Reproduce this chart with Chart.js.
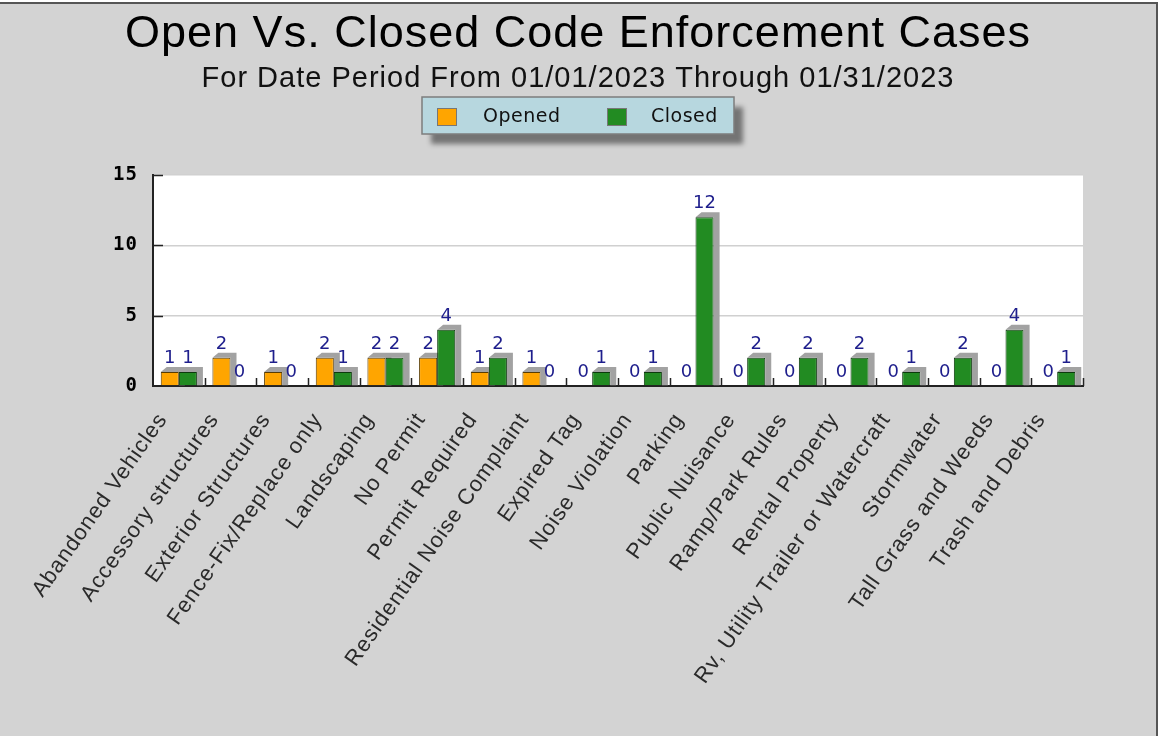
<!DOCTYPE html>
<html>
<head>
<meta charset="utf-8">
<script src="https://cdn.jsdelivr.net/npm/chart.js@4.4.1/dist/chart.umd.min.js"></script>
<style>
  html, body { margin: 0; padding: 0; background: #fff; }
  #wrap { width: 1162px; height: 736px; }
</style>
</head>
<body>
<div id="wrap"><canvas id="myChart" width="1162" height="736"></canvas></div>
<script>
// chart data
const categories = [
    'Abandoned Vehicles', 'Accessory structures', 'Exterior Structures', 'Fence-Fix/Replace only',
    'Landscaping', 'No Permit', 'Permit Required', 'Residential Noise Complaint', 'Expired Tag',
    'Noise Violation', 'Parking', 'Public Nuisance', 'Ramp/Park Rules', 'Rental Property',
    'Rv, Utility Trailer or Watercraft', 'Stormwater', 'Tall Grass and Weeds', 'Trash and Debris'
];
const openedCounts = [1, 2, 1, 2, 2, 2, 1, 1, 0, 0, 0, 0, 0, 0, 0, 0, 0, 0];
const closedCounts = [1, 0, 0, 1, 2, 4, 2, 0, 1, 1, 12, 2, 2, 2, 1, 2, 4, 1];
const seriesNames = ['Opened', 'Closed'];
const seriesColors = ['#ffa500', '#228b22'];
const yTickValues = [0, 5, 10, 15];

Chart.defaults.font.family = '"Liberation Sans", Arial, sans-serif';

// grey page, white plot area
const backdrop = {
    id: 'backdrop',
    beforeDraw(chart) {
        const { ctx, chartArea: a } = chart;
        ctx.save();
        ctx.fillStyle = '#d3d3d3';
        ctx.fillRect(0, 0, chart.width, chart.height);
        ctx.fillStyle = '#ffffff';
        ctx.fillRect(a.left, a.top, a.right - a.left, a.bottom - a.top);
        ctx.restore();
        ctx.letterSpacing = '1px';
    },
    afterDraw(chart) {
        const ctx = chart.ctx;
        ctx.save();
        ctx.fillStyle = '#ffffff';
        ctx.fillRect(1158, 0, 4, chart.height);
        ctx.fillRect(0, 0, chart.width, 2);
        ctx.strokeStyle = '#555';
        ctx.lineWidth = 2;
        ctx.beginPath();
        ctx.moveTo(0, 3);
        ctx.lineTo(1157, 3);
        ctx.lineTo(1157, chart.height);
        ctx.stroke();
        ctx.restore();
    }
};

// 3d-ish grey shadow behind each bar
const barShadow = {
    id: 'barShadow',
    beforeDatasetsDraw(chart) {
        const ctx = chart.ctx;
        const dx = 6, dy = 5;
        ctx.save();
        ctx.fillStyle = '#a2a2a2';
        chart.data.datasets.forEach((ds, i) => {
            chart.getDatasetMeta(i).data.forEach((bar, j) => {
                if (!ds.data[j]) return;
                const { x, y, base, width } = bar.getProps(['x', 'y', 'base', 'width'], true);
                const l = x - width / 2, r = x + width / 2;
                ctx.beginPath();
                ctx.moveTo(l, y);
                ctx.lineTo(l + dx, y - dy);
                ctx.lineTo(r + dx, y - dy);
                ctx.lineTo(r + dx, base);
                ctx.lineTo(r, base);
                ctx.lineTo(r, y);
                ctx.closePath();
                ctx.fill();
            });
        });
        ctx.restore();
    },
    afterDatasetsDraw(chart) {
        const ctx = chart.ctx;
        const xs = chart.scales.x, ys = chart.scales.y;
        ctx.save();
        ctx.letterSpacing = '0px';
        // inward tick marks
        ctx.strokeStyle = '#222';
        ctx.lineWidth = 1.5;
        ctx.beginPath();
        for (let k = 1; k <= categories.length; k++) {
            const px = Math.round(xs.getPixelForValue(k - 0.5)) + 0.5;
            ctx.moveTo(px, xs.top);
            ctx.lineTo(px, xs.top - 8);
        }
        yTickValues.slice(1).forEach(v => {
            const py = Math.round(ys.getPixelForValue(v)) + 0.5;
            ctx.moveTo(ys.right, py);
            ctx.lineTo(ys.right + 10, py);
        });
        ctx.stroke();
        // value labels
        ctx.font = '18px "DejaVu Sans"';
        ctx.fillStyle = '#1e1e8c';
        ctx.textAlign = 'center';
        ctx.textBaseline = 'alphabetic';
        chart.data.datasets.forEach((ds, i) => {
            chart.getDatasetMeta(i).data.forEach((bar, j) => {
                ctx.fillText(String(ds.data[j]), bar.x, bar.y - 9);
            });
        });
        ctx.restore();
    }
};

// boxed legend with drop shadow
const boxLegend = {
    id: 'boxLegend',
    afterDraw(chart) {
        const ctx = chart.ctx;
        const w = 312, h = 37;
        const lx = Math.round((chart.width - 6) / 2 - w / 2), ly = 97;
        ctx.save();
        ctx.letterSpacing = '0.5px';
        ctx.shadowColor = 'rgba(0,0,0,0.45)';
        ctx.shadowBlur = 5;
        ctx.shadowOffsetX = 9;
        ctx.shadowOffsetY = 10;
        ctx.fillStyle = '#b7d7df';
        ctx.fillRect(lx, ly, w, h);
        ctx.shadowColor = 'transparent';
        ctx.strokeStyle = '#7d7d7d';
        ctx.lineWidth = 1.5;
        ctx.strokeRect(lx, ly, w, h);
        const offs = [[15, 61], [185, 229]];
        ctx.font = '19px "DejaVu Sans"';
        ctx.textBaseline = 'middle';
        chart.data.datasets.forEach((ds, i) => {
            ctx.fillStyle = ds.backgroundColor;
            ctx.fillRect(lx + offs[i][0], ly + 11, 20, 18);
            ctx.strokeStyle = '#777';
            ctx.lineWidth = 1;
            ctx.strokeRect(lx + offs[i][0] + 0.5, ly + 11.5, 19, 17);
            ctx.fillStyle = '#111';
            ctx.fillText(ds.label, lx + offs[i][1], ly + 20);
        });
        ctx.restore();
    }
};

const data = {
    labels: categories,
    datasets: [
        {
            label: seriesNames[0],
            data: openedCounts,
            backgroundColor: seriesColors[0],
            borderColor: '#5a3c00',
            borderWidth: 1
        },
        {
            label: seriesNames[1],
            data: closedCounts,
            backgroundColor: seriesColors[1],
            borderColor: '#0c3a0c',
            borderWidth: 1
        }
    ]
};

const config = {
    type: 'bar',
    data: data,
    options: {
        responsive: false,
        animation: false,
        devicePixelRatio: 1,
        categoryPercentage: 0.7,
        barPercentage: 1.0,
        layout: { padding: { top: 4, right: 6, bottom: 0, left: 0 } },
        plugins: {
            legend: { display: false },
            tooltip: { enabled: false },
            title: {
                display: true,
                text: 'Open Vs. Closed Code Enforcement Cases',
                color: '#000',
                font: { size: 45, weight: 'normal' },
                padding: { top: 4, bottom: 0 }
            },
            subtitle: {
                display: true,
                text: 'For Date Period From 01/01/2023 Through 01/31/2023',
                color: '#111',
                font: { size: 29, weight: 'normal' },
                padding: { top: 0, bottom: 78.2 }
            }
        },
        scales: {
            x: {
                grid: { display: false, drawTicks: false },
                border: { display: true, color: '#222', width: 2 },
                ticks: {
                    autoSkip: false,
                    minRotation: 55,
                    maxRotation: 55,
                    labelOffset: -16,
                    padding: 22,
                    color: '#2a2a2a',
                    font: { size: 22 }
                },
                afterFit(s) { s.height = 350; }
            },
            y: {
                min: 0,
                max: 15,
                afterBuildTicks(s) { s.ticks = yTickValues.map(v => ({ value: v })); },
                grid: { color: '#d0d0d0', lineWidth: 1.5, drawTicks: false },
                border: { display: true, color: '#222', width: 2 },
                ticks: {
                    padding: 15,
                    color: '#000',
                    font: { family: '"DejaVu Sans Mono"', size: 19, weight: 'bold' }
                },
                afterFit(s) { s.width = 153; }
            },
            spacer: {
                type: 'linear',
                position: 'right',
                grid: { display: false, drawTicks: false },
                border: { display: false },
                ticks: { display: false },
                afterFit(s) { s.width = 73; }
            }
        }
    },
    plugins: [backdrop, barShadow, boxLegend]
};

// eslint-disable-next-line
const myChart = new Chart(document.getElementById('myChart'), config);
</script>
</body>
</html>
